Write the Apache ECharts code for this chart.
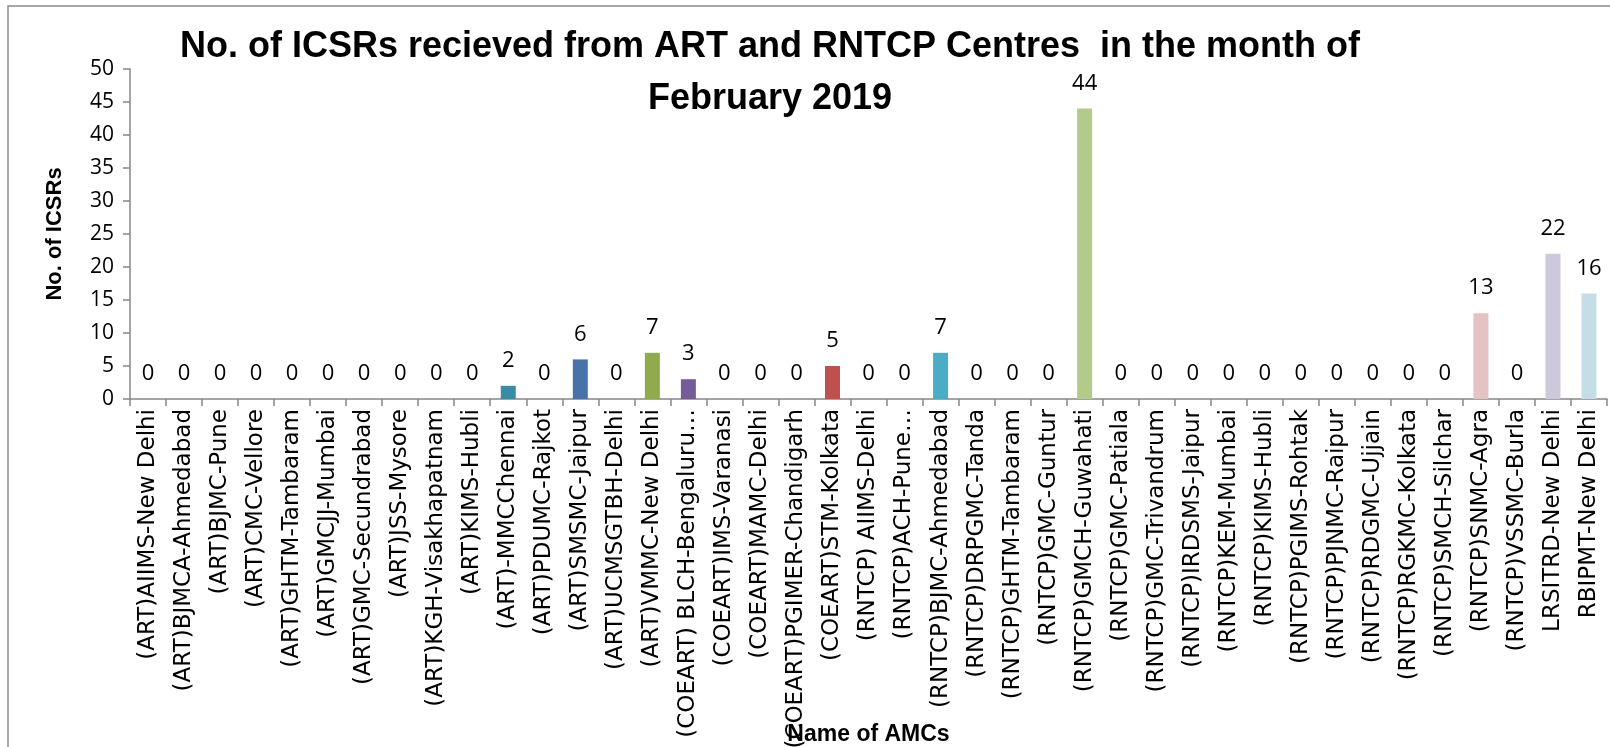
<!DOCTYPE html>
<html>
<head>
<meta charset="utf-8">
<script src="https://cdn.jsdelivr.net/npm/echarts@6/dist/echarts.min.js"></script>
<style>
  html, body { margin: 0; padding: 0; background: #fff; }
  #chart { width: 1610px; height: 747px; }
</style>
</head>
<body>
<div id="chart"></div>
<script>
const centres = [
  '(ART)AIIMS-New Delhi', '(ART)BJMCA-Ahmedabad', '(ART)BJMC-Pune', '(ART)CMC-Vellore',
  '(ART)GHTM-Tambaram', '(ART)GMCJJ-Mumbai', '(ART)GMC-Secundrabad', '(ART)JSS-Mysore',
  '(ART)KGH-Visakhapatnam', '(ART)KIMS-Hubli', '(ART)-MMCChennai', '(ART)PDUMC-Rajkot',
  '(ART)SMSMC-Jaipur', '(ART)UCMSGTBH-Delhi', '(ART)VMMC-New Delhi', '(COEART) BLCH-Bengaluru…',
  '(COEART)IMS-Varanasi', '(COEART)MAMC-Delhi', '(COEART)PGIMER-Chandigarh', '(COEART)STM-Kolkata',
  '(RNTCP) AIIMS-Delhi', '(RNTCP)ACH-Pune…', '(RNTCP)BJMC-Ahmedabad', '(RNTCP)DRPGMC-Tanda',
  '(RNTCP)GHTM-Tambaram', '(RNTCP)GMC-Guntur', '(RNTCP)GMCH-Guwahati', '(RNTCP)GMC-Patiala',
  '(RNTCP)GMC-Trivandrum', '(RNTCP)IRDSMS-Jaipur', '(RNTCP)KEM-Mumbai', '(RNTCP)KIMS-Hubli',
  '(RNTCP)PGIMS-Rohtak', '(RNTCP)PJNMC-Raipur', '(RNTCP)RDGMC-Ujjain', '(RNTCP)RGKMC-Kolkata',
  '(RNTCP)SMCH-Silchar', '(RNTCP)SNMC-Agra', '(RNTCP)VSSMC-Burla', 'LRSITRD-New Delhi',
  'RBIPMT-New Delhi'
]
const icsrs = [
  0, 0, 0, 0, 0, 0, 0, 0, 0, 0, 2, 0, 6, 0, 7, 3,
  0, 0, 0, 5, 0, 0, 7, 0, 0, 0, 44, 0, 0, 0, 0, 0,
  0, 0, 0, 0, 0, 13, 0, 22, 16
]
const yTicks = { min: 0, max: 50, interval: 5 }

// bar colours, one per centre (Excel style palette)
const barColors = [
  '#4F81BD', '#C0504D', '#9BBB59', '#8064A2', '#4BACC6', '#F79646', '#2C4D75', '#772C2A',
  '#5F7530', '#4D3B62', '#3A8CA3', '#B65708', '#4773AA', '#B4403D', '#8FAB4E', '#755B97',
  '#44A0B8', '#E0893F', '#4F81BD', '#C0504D', '#9BBB59', '#8064A2', '#4BACC6', '#F79646',
  '#95B3D7', '#D99694', '#B2CA8A', '#B3A2C7', '#93CDDD', '#FAC090', '#4F81BD', '#C0504D',
  '#9BBB59', '#8064A2', '#4BACC6', '#F79646', '#B9CDE5', '#E5C3C3', '#D7E4BD', '#CDC8DB',
  '#C4DEE7'
]

const chart = echarts.init(document.getElementById('chart'), null, { renderer: 'canvas' })
chart.setOption({
  backgroundColor: '#fff',
  animation: false,
  title: {
    text: 'No. of ICSRs recieved from ART and RNTCP Centres  in the month of\nFebruary 2019',
    left: 765,
    top: 16,
    textAlign: 'center',
    textStyle: {
      fontFamily: 'Liberation Sans',
      fontWeight: 'bold',
      fontSize: 36,
      lineHeight: 52,
      color: '#000'
    }
  },
  graphic: [{
    type: 'rect',
    z: -1,
    shape: { x: 8, y: 6, width: 1700, height: 800 },
    style: { fill: 'none', stroke: '#8c8c8c', lineWidth: 1.5 }
  }],
  grid: { left: 130, right: 3, top: 69, bottom: 348, outerBoundsMode: 'none', containLabel: false },
  xAxis: {
    type: 'category',
    data: centres,
    name: 'Name of AMCs',
    nameLocation: 'middle',
    nameGap: 324,
    nameMoveOverlap: false,
    nameTextStyle: { fontFamily: 'Liberation Sans', fontWeight: 'bold', fontSize: 23, color: '#000' },
    axisLine: { lineStyle: { color: '#878787', width: 1.5 } },
    axisTick: { show: true, length: 7, lineStyle: { color: '#878787', width: 1.5 } },
    axisLabel: {
      interval: 0,
      rotate: 90,
      margin: 10,
      fontFamily: 'DejaVu Sans',
      fontSize: 23,
      color: '#000'
    }
  },
  yAxis: {
    type: 'value',
    min: yTicks.min,
    max: yTicks.max,
    interval: yTicks.interval,
    name: 'No. of ICSRs',
    nameLocation: 'middle',
    nameRotate: 90,
    nameGap: 64,
    nameMoveOverlap: false,
    nameTextStyle: { fontFamily: 'Liberation Sans', fontWeight: 'bold', fontSize: 22, color: '#000' },
    axisLine: { show: true, lineStyle: { color: '#878787', width: 1.5 } },
    axisTick: { show: true, length: 7, lineStyle: { color: '#878787', width: 1.5 } },
    splitLine: { show: false },
    axisLabel: { fontFamily: 'Open Sans', fontSize: 21, color: '#000', margin: 16 }
  },
  series: [{
    type: 'bar',
    barWidth: 15,
    data: icsrs.map((v, i) => ({ value: v, itemStyle: { color: barColors[i] } })),
    label: {
      show: true,
      position: 'top',
      distance: 14,
      fontFamily: 'Open Sans',
      fontSize: 22,
      color: '#000'
    }
  }]
})
</script>
</body>
</html>
